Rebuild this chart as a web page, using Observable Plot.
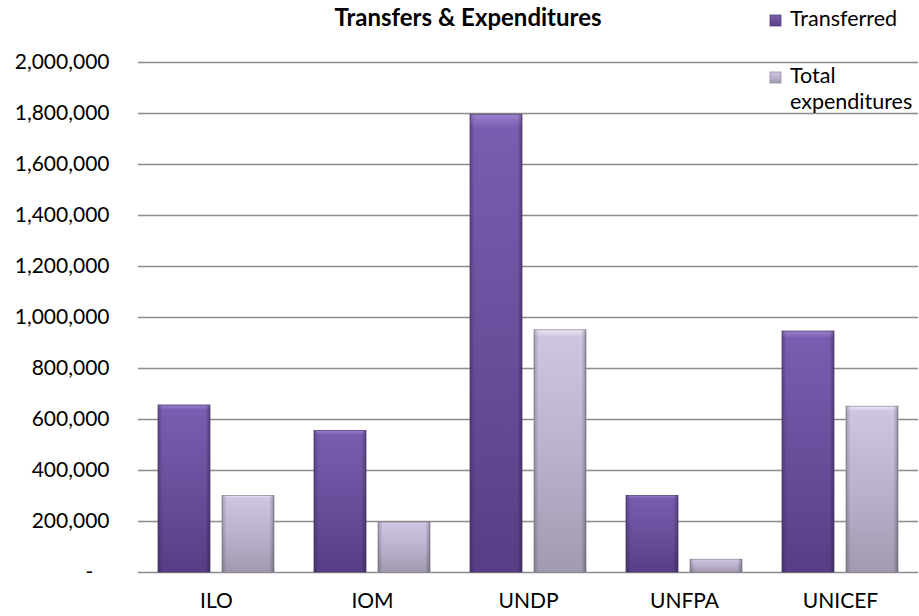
<!DOCTYPE html>
<html>
<head>
<meta charset="utf-8">
<script src="https://cdn.jsdelivr.net/npm/d3@7"></script>
<script src="https://cdn.jsdelivr.net/npm/@observablehq/plot@0.6"></script>
<style>
  html, body { margin: 0; padding: 0; background: #fff; }
  #chart { position: relative; width: 919px; height: 616px; overflow: hidden; }
</style>
</head>
<body>
<div id="chart"></div>
<script>
const title = "Transfers & Expenditures";
const categories = ["ILO", "IOM", "UNDP", "UNFPA", "UNICEF"];
const seriesNames = ["Transferred", "Total expenditures"];
const transferred = [655000, 555000, 1795000, 300000, 945000];
const totalExpenditures = [300000, 195000, 950000, 50000, 650000];
const yTicks = [0, 200000, 400000, 600000, 800000, 1000000, 1200000, 1400000, 1600000, 1800000, 2000000];

const data = categories.flatMap((c, i) => [
  {agency: c, series: seriesNames[0], value: transferred[i]},
  {agency: c, series: seriesNames[1], value: totalExpenditures[i]}
]);

const fmt = d3.format(",");
const tickFormat = d => d === 0 ? "-\u00a0\u00a0\u00a0" : fmt(d);

const chart = Plot.plot({
  width: 919,
  height: 616,
  marginTop: 62,
  marginBottom: 44,
  marginLeft: 136,
  marginRight: 0,
  style: {fontFamily: "Lato", fontSize: "21px", color: "#000", background: "#fff"},
  fx: {domain: categories, padding: 0, label: null, axis: "bottom", tickSize: 0, tickPadding: 21},
  x: {domain: seriesNames, axis: null, paddingInner: 0.185, paddingOuter: 0.3},
  y: {domain: [0, 2000000], ticks: yTicks, tickFormat, tickSize: 0, tickPadding: 29, label: null},
  color: {domain: seriesNames, range: ["url(#gradT)", "url(#gradE)"]},
  marks: [
    Plot.ruleY(yTicks, {stroke: "#8c8c8c", strokeWidth: 1.6}),
    Plot.barY(data, {fx: "agency", x: "series", y: "value", fill: "series",
      stroke: d => d.series === seriesNames[0] ? "#55407a" : "#948ca3", strokeWidth: 0.8}),
    Plot.barY(data, {fx: "agency", x: "series", y: "value", fill: "url(#gradEdge)"})
  ]
});

// gradient definitions
const svg = d3.select(chart);
const defs = svg.insert("defs", ":first-child");
function vgrad(id, stops) {
  const g = defs.append("linearGradient").attr("id", id)
    .attr("x1", 0).attr("y1", 0).attr("x2", 0).attr("y2", 1);
  stops.forEach(([o, c]) => g.append("stop").attr("offset", o).attr("stop-color", c));
}
vgrad("gradT", [["0%", "#9a80cc"], ["3%", "#7a5cb0"], ["50%", "#6a4e9c"], ["100%", "#573d85"]]);
vgrad("gradE", [["0%", "#ece6f5"], ["3%", "#cfc5e2"], ["50%", "#bcb1cf"], ["100%", "#a29aae"]]);
const ge = defs.append("linearGradient").attr("id", "gradEdge")
  .attr("x1", 0).attr("y1", 0).attr("x2", 1).attr("y2", 0);
[["0%", "#000", 0.22], ["9%", "#000", 0], ["91%", "#000", 0], ["100%", "#000", 0.28]]
  .forEach(([o, c, a]) => ge.append("stop").attr("offset", o).attr("stop-color", c).attr("stop-opacity", a));

// title
svg.append("text").attr("x", 468).attr("y", 26)
  .attr("text-anchor", "middle")
  .style("font-family", "Lato").style("font-weight", "bold").style("font-size", "24px")
  .text(title);

// legend
const leg = svg.append("g").attr("text-anchor", "start")
  .style("font-family", "Lato").style("font-size", "21.5px");
const legendItems = [
  {fill: "url(#gradT)", stroke: "#55407a", y: 15, lines: ["Transferred"]},
  {fill: "url(#gradE)", stroke: "#948ca3", y: 72, lines: ["Total", "expenditures"]}
];
legendItems.forEach(it => {
  leg.append("rect").attr("x", 770).attr("y", it.y).attr("width", 11).attr("height", 11)
    .attr("fill", it.fill).attr("stroke", it.stroke).attr("stroke-width", 0.8);
  it.lines.forEach((l, j) => {
    leg.append("text").attr("x", 790).attr("y", it.y + 11 + j * 26).attr("text-anchor", "start").text(l);
  });
});

document.getElementById("chart").appendChild(chart);
</script>
</body>
</html>
